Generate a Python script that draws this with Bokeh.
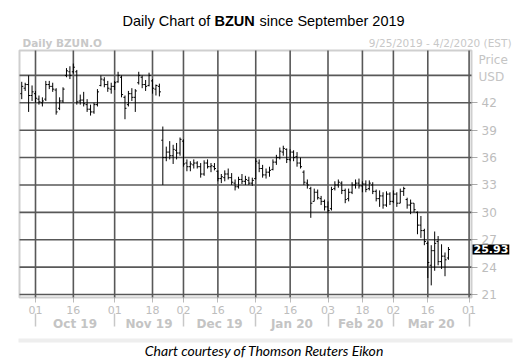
import pandas as pd
from bokeh.plotting import figure
from bokeh.models import (Range1d, FixedTicker, LinearAxis, Label, BoxAnnotation,
                          ColumnDataSource)
from bokeh.embed import file_html
from bokeh.resources import INLINE

# ---------------- data ----------------
start_date = "2019-09-25"
end_date = "2020-04-02"
holidays = ["2019-11-28", "2019-12-25", "2020-01-01", "2020-01-20", "2020-02-17"]

opens = [43.0, 43.6, 44.0, 42.8, 43.0, 42.4, 42.0, 42.4, 44.0, 43.8,
         43.4, 41.4, 42.2, 45.0, 45.4, 45.4, 45.4, 42.2, 42.3, 41.8,
         41.3, 41.0, 41.8, 43.9, 44.5, 44.0, 43.5, 43.8, 44.3, 44.8,
         42.6, 41.8, 43.0, 42.6, 44.2, 44.8, 44.0, 43.9, 44.4, 43.5,
         43.8, 37.9, 36.0, 36.6, 36.2, 36.8, 36.5, 37.8, 35.4, 35.0,
         35.2, 35.4, 35.0, 34.2, 35.4, 35.0, 35.0, 34.5, 33.7, 33.8,
         34.2, 33.8, 33.2, 32.8, 33.6, 33.4, 33.5, 33.2, 33.7, 35.4,
         34.8, 34.1, 34.4, 34.7, 35.5, 36.0, 36.6, 36.9, 35.8, 36.6,
         36.1, 35.4, 34.4, 33.2, 32.6, 31.2, 32.2, 31.5, 31.2, 30.6,
         30.4, 32.6, 33.0, 33.2, 32.4, 31.5, 32.2, 33.0, 33.2, 32.9,
         33.1, 32.6, 33.0, 32.3, 31.5, 31.8, 30.8, 32.0, 31.2, 32.0,
         31.0, 32.3, 31.4, 30.8, 31.0, 30.0, 28.6, 28.0, 26.6, 24.2,
         25.8, 26.8, 24.6, 25.2, 25.0]
highs = [44.3, 44.2, 45.0, 43.9, 43.3, 42.8, 42.6, 44.4, 44.4, 44.2,
         43.6, 42.6, 43.7, 45.8, 46.0, 46.3, 45.6, 42.9, 43.2, 42.4,
         41.8, 42.0, 43.5, 45.0, 44.8, 44.4, 44.2, 44.4, 45.4, 45.0,
         42.8, 43.3, 43.6, 43.5, 45.4, 45.0, 44.5, 45.3, 44.6, 44.0,
         44.1, 39.4, 37.2, 37.8, 37.4, 37.6, 38.2, 38.0, 35.8, 35.6,
         35.8, 35.6, 35.4, 35.7, 35.8, 35.4, 35.4, 34.6, 34.2, 34.6,
         34.8, 34.3, 33.6, 33.9, 34.2, 34.0, 33.9, 33.8, 36.0, 35.8,
         35.2, 34.8, 35.0, 35.8, 36.3, 37.1, 37.3, 37.0, 36.9, 36.8,
         36.6, 36.0, 34.6, 33.6, 32.8, 32.6, 32.5, 31.8, 31.4, 31.2,
         32.8, 33.4, 33.6, 33.4, 32.6, 32.6, 33.3, 33.6, 33.7, 33.4,
         33.5, 33.5, 33.3, 32.5, 32.4, 32.2, 32.3, 32.2, 32.4, 32.2,
         32.6, 32.8, 31.6, 31.4, 31.0, 30.1, 29.6, 28.2, 26.8, 26.4,
         27.9, 27.4, 26.5, 25.6, 26.2]
lows = [42.4, 43.3, 41.0, 42.2, 42.0, 41.8, 41.6, 42.2, 43.5, 43.2,
        40.7, 41.2, 42.0, 44.8, 44.6, 45.2, 41.8, 41.8, 41.6, 41.0,
        40.6, 40.8, 41.6, 43.8, 43.7, 43.2, 43.0, 43.4, 44.2, 42.6,
        40.2, 41.6, 42.2, 41.0, 44.0, 43.6, 43.3, 43.8, 43.0, 42.8,
        42.7, 33.0, 35.6, 35.8, 35.3, 35.8, 36.2, 35.0, 34.5, 34.5,
        34.8, 34.8, 33.8, 34.0, 34.8, 34.4, 34.6, 33.4, 33.2, 33.4,
        33.6, 33.0, 32.4, 32.6, 33.1, 33.0, 33.0, 32.9, 33.6, 34.4,
        33.8, 33.7, 33.9, 34.6, 35.2, 35.8, 36.2, 35.4, 35.6, 35.6,
        35.0, 34.8, 33.0, 32.6, 29.4, 31.2, 31.4, 30.8, 30.2, 29.9,
        30.2, 32.4, 32.7, 32.0, 31.0, 31.2, 32.0, 32.6, 32.6, 32.2,
        32.2, 32.4, 32.0, 31.2, 30.6, 30.4, 30.6, 30.8, 31.0, 30.6,
        31.0, 31.8, 30.4, 29.8, 30.0, 27.6, 27.2, 26.4, 22.8, 22.0,
        23.6, 24.2, 23.8, 23.0, 24.8]
closes = [43.8, 44.0, 42.8, 43.2, 42.5, 42.1, 42.2, 44.0, 43.8, 43.5,
          41.0, 42.2, 43.5, 45.5, 45.0, 45.9, 42.1, 42.3, 41.9, 41.3,
          41.0, 41.8, 43.2, 44.6, 44.0, 43.6, 43.8, 44.2, 45.0, 42.9,
          41.4, 43.0, 42.6, 43.3, 45.0, 44.0, 43.8, 45.0, 43.6, 43.9,
          43.2, 36.0, 36.6, 36.2, 36.9, 36.5, 38.0, 35.3, 35.0, 35.3,
          35.4, 35.0, 34.2, 35.4, 35.0, 35.1, 34.8, 33.7, 33.9, 34.2,
          33.8, 33.3, 32.8, 33.6, 33.4, 33.6, 33.2, 33.5, 35.6, 34.8,
          34.1, 34.4, 34.6, 35.5, 36.0, 36.7, 37.0, 35.8, 36.6, 36.0,
          35.4, 35.0, 33.3, 33.0, 31.0, 32.2, 31.6, 31.2, 30.6, 30.2,
          32.5, 33.0, 33.3, 32.4, 31.4, 32.2, 33.0, 33.2, 32.9, 33.1,
          32.5, 33.2, 32.3, 31.5, 31.8, 30.8, 32.0, 31.2, 32.0, 31.0,
          32.3, 32.6, 30.8, 31.0, 30.3, 28.6, 28.0, 26.8, 24.5, 25.8,
          26.6, 24.6, 25.2, 24.8, 25.93]

tick_dates = ["2019-10-01", "2019-10-16", "2019-11-01", "2019-11-18", "2019-12-02",
              "2019-12-16", "2020-01-02", "2020-01-16", "2020-02-03", "2020-02-18",
              "2020-03-02", "2020-03-16", "2020-04-01"]
month_starts = ["2019-10-01", "2019-11-01", "2019-12-02", "2020-01-02",
                "2020-02-03", "2020-03-02", "2020-04-01"]
month_labels = ["Oct 19", "Nov 19", "Dec 19", "Jan 20", "Feb 20", "Mar 20"]
price_ticks = [21, 24, 27, 30, 33, 36, 39, 42]
grid_prices = [21, 24, 27, 30, 33, 36, 39, 42, 45]
last_price = 25.93

# ---------------- trading-day index ----------------
days = pd.bdate_range(start_date, end_date)
days = days[~days.isin(pd.to_datetime(holidays))]
pos = {d.strftime("%Y-%m-%d"): i for i, d in enumerate(days)}
tick_idx = [pos[d] for d in tick_dates]
tick_lbl = {i: pd.Timestamp(d).strftime("%d") for i, d in zip(tick_idx, tick_dates)}
ms_idx = [pos[d] for d in month_starts]
mid_idx = [(a + b) / 2 for a, b in zip(ms_idx[:-1], ms_idx[1:])]
mid_lbl = {m: l for m, l in zip(mid_idx, month_labels)}

n = len(closes)
x = list(range(n))
src = ColumnDataSource(dict(x=x, o=opens, h=highs, l=lows, c=closes,
                            xl=[i - 0.45 for i in x], xr=[i + 0.45 for i in x]))

# ---------------- canvas / chart box geometry ----------------
W, H = 522, 360
BX0, BX1, BY0, BY1 = -0.65, 130.7, 20.67, 47.73      # chart box in data units
PX0, PX1, PY_TOP, PY_BOT = 19, 471, 50, 297           # chart box in pixels
kx = (PX1 - PX0) / (BX1 - BX0)
ky = (PY_BOT - PY_TOP) / (BY1 - BY0)
xr = Range1d(BX0 - PX0 / kx, BX1 + (W - PX1) / kx)
yr = Range1d(BY0 - (H - PY_BOT) / ky, BY1 + PY_TOP / ky)
MONTH_AXIS_Y = BY0 - 16 / ky

p = figure(width=W, height=H, output_backend="svg", toolbar_location=None,
           x_range=xr, y_range=yr, x_axis_location=None, y_axis_location=None,
           min_border=0)
p.outline_line_color = None
p.background_fill_color = "white"
p.border_fill_color = "white"
p.grid.visible = False

GRID = "#585858"
# grid lines drawn from the tick arrays
p.segment(x0=tick_idx, y0=[BY0] * len(tick_idx), x1=tick_idx, y1=[BY1] * len(tick_idx),
          line_color=GRID, line_width=1.6)
p.segment(x0=[BX0] * len(grid_prices), y0=grid_prices, x1=[BX1] * len(grid_prices),
          y1=grid_prices, line_color=GRID, line_width=1.6)

# OHLC bars
p.segment("x", "l", "x", "h", source=src, line_color="black", line_width=1)
p.segment("xl", "o", "x", "o", source=src, line_color="black", line_width=1)
p.segment("x", "c", "xr", "c", source=src, line_color="black", line_width=1)

# chart border
p.add_layout(BoxAnnotation(left=BX0, right=BX1, bottom=BY0, top=BY1,
                           fill_color=None, line_color="#606060", line_width=2))

GRAY = "#bdbdbd"
# price axis (right)
ya = LinearAxis(fixed_location=BX1, ticker=FixedTicker(ticks=price_ticks))
ya.axis_line_color = None
ya.major_tick_in = 0
ya.major_tick_out = 6
ya.major_tick_line_color = "#aaaaaa"
ya.minor_tick_line_color = None
ya.major_label_text_color = GRAY
ya.major_label_text_font = "DejaVu Sans"
ya.major_label_text_font_size = "12px"
ya.major_label_standoff = 4
p.add_layout(ya, "right")

# day axis
xa = LinearAxis(fixed_location=BY0, ticker=FixedTicker(ticks=tick_idx),
                major_label_overrides=tick_lbl)
xa.axis_line_color = None
xa.major_tick_in = 0
xa.major_tick_out = 5
xa.major_tick_line_color = "#bbbbbb"
xa.minor_tick_line_color = None
xa.major_label_text_color = GRAY
xa.major_label_text_font = "DejaVu Sans"
xa.major_label_text_font_size = "11px"
xa.major_label_standoff = 3
p.add_layout(xa, "below")

# month axis
ma = LinearAxis(fixed_location=MONTH_AXIS_Y,
                ticker=FixedTicker(ticks=mid_idx, minor_ticks=ms_idx),
                major_label_overrides=mid_lbl)
ma.axis_line_color = None
ma.major_tick_line_color = None
ma.minor_tick_in = 0
ma.minor_tick_out = 13
ma.minor_tick_line_color = "#c8c8c8"
ma.minor_tick_line_width = 1.5
ma.major_label_text_color = "#c4c4c4"
ma.major_label_text_font = "DejaVu Sans"
ma.major_label_text_font_style = "bold"
ma.major_label_text_font_size = "12px"
ma.major_label_standoff = -10
p.add_layout(ma, "below")


def lab(text, X, Y, size, color="black", style="normal", font="Liberation Sans",
        align="left", baseline="alphabetic", **kw):
    p.add_layout(Label(x=X, y=H - Y, x_units="screen", y_units="screen", text=text,
                       text_font=font, text_font_size=size, text_color=color,
                       text_font_style=style, text_align=align,
                       text_baseline=baseline, **kw))


# title
lab("Daily Chart of", 122, 20, "14.5px")
lab("BZUN", 214, 20, "14.5px", style="bold")
lab("since September 2019", 259, 20, "14.5px")
# header texts
lab("Daily BZUN.O", 22, 42, "10.5px", color="#c8c8c8", style="bold", font="DejaVu Sans")
lab("9/25/2019 - 4/2/2020 (EST)", 511, 42, "10.5px", color="#c8c8c8", font="DejaVu Sans",
    align="right")
lab("Price", 478, 59, "12px", color="#c4c4c4", font="DejaVu Sans")
lab("USD", 478, 76, "12px", color="#c4c4c4", font="DejaVu Sans")

# last price tag
tag = Label(x=PX1 + 1, x_units="screen", y=last_price, y_units="data",
            text=f"{last_price:.2f}", text_font="DejaVu Sans", text_font_size="11px",
            text_font_style="bold", text_color="white", text_baseline="middle",
            background_fill_color="black", background_fill_alpha=1.0)
try:
    tag.padding = 1
except Exception:
    pass
p.add_layout(tag)

# bottom separator band and caption
p.add_layout(BoxAnnotation(left=18, right=512, top=H - 338, bottom=H - 342,
                           left_units="screen", right_units="screen",
                           top_units="screen", bottom_units="screen",
                           fill_color="#eeeeee", fill_alpha=1, line_color=None))
lab("Chart courtesy of Thomson Reuters Eikon", 264, 350, "14px", style="italic",
    font="Lato", align="center")

open("out.html", "w").write(file_html(p, INLINE))
